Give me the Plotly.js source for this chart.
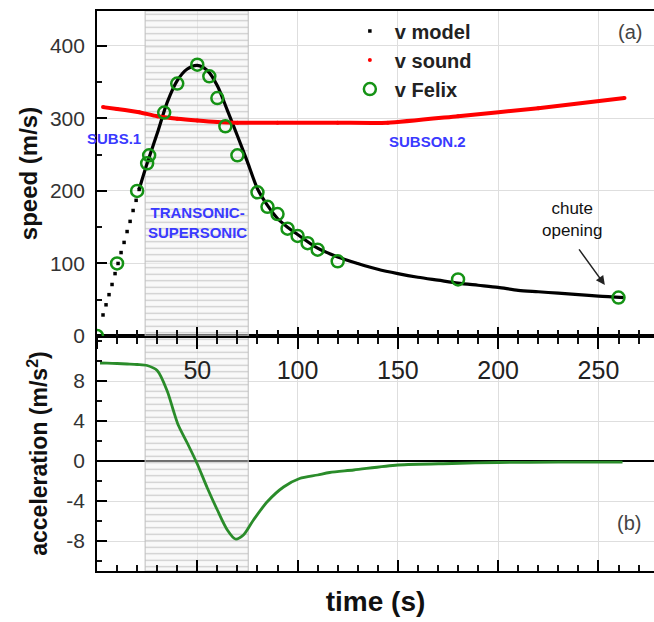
<!DOCTYPE html>
<html>
<head>
<meta charset="utf-8">
<script src="https://cdn.plot.ly/plotly-3.0.1.min.js"></script>
<style>html,body{margin:0;padding:0;background:#fff;overflow:hidden}</style>
</head>
<body>
<div id="chart" style="width:654px;height:622px"></div>
<script>
// ---- data ----
const transonicPhase = [24, 75.4];               // shaded transonic-supersonic interval (s)

const modelDotsT = [3, 4.5, 6, 7.5, 9, 10.5, 12, 13.5, 15, 16.5, 18, 19.5, 21];
const modelDotsV = [29, 43, 57, 71, 86, 100, 115, 129, 144, 158, 173, 187, 202];

const modelT = [21, 25, 30, 35, 40, 45, 50, 55, 60, 65, 70, 75, 80, 85, 90, 95, 100, 110, 120, 130, 140, 150, 160, 170, 180, 190, 200, 210, 220, 230, 240, 250, 263];
const modelV = [202, 238, 279, 322, 352, 368, 373, 366, 345, 311, 276, 240, 203, 180, 162, 150, 140, 121, 109, 100, 92, 86, 81, 77, 73, 70, 67, 63, 61, 59, 57, 55, 53];

const soundT = [3, 10, 21, 30, 40, 50, 60, 70, 90, 120, 145, 180, 220, 263];
const soundV = [315.5, 313, 308.5, 303, 299.5, 297, 295, 294, 294, 294, 294, 303, 314, 328];

const felixT = [0, 10, 20, 25, 26, 33.5, 40, 50, 56, 60, 64, 70, 80, 85, 90, 95, 100, 105, 110, 120, 180, 260];
const felixV = [0, 100, 200, 238, 249, 308, 348, 374, 358, 328, 289, 249, 198, 178, 168, 148, 138, 128, 119, 103, 78, 53];

const accelT = [1.5, 5, 10, 15, 20, 25, 30, 35, 38, 40.5, 45, 50, 55, 60, 65, 69, 73, 78, 85, 93, 101, 110, 116, 128, 150, 177, 200, 230, 262];
const accelA = [9.8, 9.78, 9.75, 9.7, 9.65, 9.55, 9.05, 7.0, 5.1, 3.6, 1.8, -0.3, -2.7, -4.9, -6.9, -7.8, -7.4, -5.9, -4.05, -2.6, -1.75, -1.4, -1.15, -0.9, -0.4, -0.25, -0.15, -0.12, -0.12];

const xTickVals = [0, 50, 100, 150, 200, 250];
const xTickText = ['', '50', '100', '150', '200', '250'];
const vTickVals = [0, 100, 200, 300, 400];
const vTickText = ['0', '100', '200', '300', '400'];
const aTickVals = [-8, -4, 0, 4, 8];
const aTickText = ['-8', '-4', '0', '4', '8'];

// ---- layout constants ----
const xRange = [0, 277.7];
const vRange = [0, 448];
const aRange = [-11, 12.5];
const FONT = '"Liberation Sans", Arial, Helvetica, sans-serif';
const SPLIT = 235 / 560;
// transparent spacer after each y tick label keeps the labels clear of the axis
const padLabel = t => t + '<span style="color:rgba(255,255,255,0)">.</span>';

const shadeMid = (transonicPhase[0] + transonicPhase[1]) / 2;
const shadeW = transonicPhase[1] - transonicPhase[0];
const shadeMarker = {
  color: 'rgba(240,240,240,0.4)',
  pattern: {shape: '-', fgcolor: 'rgba(190,190,190,0.8)', bgcolor: 'rgba(242,242,242,0.45)', size: 6.5, solidity: 0.18},
  line: {color: '#bdbdbd', width: 1}
};

// bottom panel = x/y (acceleration), top panel = x2/y2 (speed); x3 only carries the upward ticks of the top panel
const traces = [
  {type: 'bar', x: [shadeMid], y: [aRange[1] - aRange[0]], base: [aRange[0]], width: [shadeW],
   xaxis: 'x', yaxis: 'y', marker: shadeMarker, showlegend: false, hoverinfo: 'skip'},
  {type: 'bar', x: [shadeMid], y: [vRange[1] - vRange[0]], base: [vRange[0]], width: [shadeW],
   xaxis: 'x2', yaxis: 'y2', marker: shadeMarker, showlegend: false, hoverinfo: 'skip'},
  {type: 'scatter', mode: 'lines', x: modelT, y: modelV, xaxis: 'x2', yaxis: 'y2',
   line: {color: '#000', width: 3.2, shape: 'spline', smoothing: 0.8}, showlegend: false, hoverinfo: 'skip'},
  {type: 'scatter', mode: 'markers', name: 'v model', x: modelDotsT, y: modelDotsV, xaxis: 'x2', yaxis: 'y2',
   marker: {symbol: 'square', size: 3.5, color: '#000'}},
  {type: 'scatter', mode: 'lines', x: soundT, y: soundV, xaxis: 'x2', yaxis: 'y2',
   line: {color: '#ff0000', width: 4, shape: 'spline', smoothing: 0.6}, showlegend: false, hoverinfo: 'skip'},
  {type: 'scatter', mode: 'markers', name: 'v sound', x: soundT, y: soundV, xaxis: 'x2', yaxis: 'y2',
   marker: {size: 4, color: '#ff0000'}},
  {type: 'scatter', mode: 'markers', name: 'v Felix', x: felixT, y: felixV, xaxis: 'x2', yaxis: 'y2',
   marker: {symbol: 'circle-open', size: 12, color: '#159315', line: {width: 2.5, color: '#159315'}}},
  {type: 'scatter', mode: 'markers', x: felixT, y: felixV, xaxis: 'x3', yaxis: 'y2',
   marker: {size: 1, opacity: 0}, showlegend: false, hoverinfo: 'skip'},
  {type: 'scatter', mode: 'lines', x: accelT, y: accelA, xaxis: 'x', yaxis: 'y',
   line: {color: '#2a8c2a', width: 2.8, shape: 'spline', smoothing: 0.8}, showlegend: false, hoverinfo: 'skip'}
];

const axisCommon = {
  showline: true, linecolor: '#000', linewidth: 2,
  ticks: 'inside', tickcolor: '#000', tickwidth: 2,
  showgrid: true, gridcolor: '#dedede', gridwidth: 1,
  zeroline: false, fixedrange: true
};
const minorIn = {dtick: 10, ticks: 'inside', ticklen: 6, tickwidth: 2, tickcolor: '#111', showgrid: false};
const minorOut = {dtick: 10, ticks: 'outside', ticklen: 6, tickwidth: 2, tickcolor: '#111', showgrid: false};

const layout = {
  width: 654, height: 622,
  margin: {l: 97, r: 0, t: 11, b: 51, pad: 0},
  paper_bgcolor: '#fff', plot_bgcolor: '#fff',
  font: {family: FONT, color: '#333'},
  barmode: 'overlay',
  showlegend: true,
  legend: {x: 0.445, y: 0.999, xanchor: 'left', yanchor: 'top', bgcolor: 'rgba(0,0,0,0)',
           itemwidth: 40,
           font: {family: FONT, size: 20, color: '#222', weight: 'bold'}, tracegroupgap: 0},
  // bottom panel
  xaxis: Object.assign({}, axisCommon, {
    anchor: 'y', domain: [0, 1], range: xRange, mirror: true,
    tickmode: 'array', tickvals: xTickVals, ticklen: 11, showticklabels: false,
    minor: minorIn,
    title: {text: 'time (s)', font: {family: FONT, size: 28, color: '#111', weight: 'bold'}, standoff: 19}
  }),
  yaxis: Object.assign({}, axisCommon, {
    anchor: 'x', domain: [0, SPLIT], range: aRange,
    tickmode: 'array', tickvals: aTickVals, ticktext: aTickText.map(padLabel), ticklen: 10,
    zeroline: true, zerolinecolor: '#000', zerolinewidth: 2,
    tickfont: {family: FONT, size: 21, color: '#333'},
    minor: {dtick: 2, ticks: 'inside', ticklen: 5, tickwidth: 1.8, tickcolor: '#111', showgrid: false},
    title: {text: 'acceleration (m/s<sup>2</sup>)', font: {family: FONT, size: 23, color: '#111', weight: 'bold'}, standoff: 12}
  }),
  // top panel: ticks outside (down across the shared line) carry the labels
  xaxis2: Object.assign({}, axisCommon, {
    anchor: 'y2', domain: [0, 1], range: xRange, matches: 'x', mirror: true,
    tickmode: 'array', tickvals: xTickVals, ticktext: xTickText, ticks: 'outside', ticklen: 11,
    tickfont: {family: FONT, size: 25, color: '#222'},
    minor: minorOut
  }),
  // overlay axis with the upward (inside) ticks of the top panel
  xaxis3: {
    anchor: 'y2', overlaying: 'x2', domain: [0, 1], range: xRange, matches: 'x',
    showline: false, showgrid: false, zeroline: false, showticklabels: false, fixedrange: true,
    tickmode: 'array', tickvals: xTickVals, ticks: 'inside', ticklen: 9, tickwidth: 2, tickcolor: '#000',
    minor: minorIn
  },
  yaxis2: Object.assign({}, axisCommon, {
    anchor: 'x2', domain: [SPLIT, 1], range: vRange,
    tickmode: 'array', tickvals: vTickVals, ticktext: vTickText.map(padLabel), ticklen: 10,
    tickfont: {family: FONT, size: 21, color: '#333'},
    minor: {dtick: 50, ticks: 'inside', ticklen: 5, tickwidth: 1.8, tickcolor: '#111', showgrid: false},
    title: {text: 'speed (m/s)', font: {family: FONT, size: 24, color: '#111', weight: 'bold'}, standoff: 6}
  }),
  annotations: [
    {x: 8.5, y: 272, xref: 'x2', yref: 'y2', text: 'SUBS.1', showarrow: false,
     font: {family: FONT, size: 15, color: '#3a3aff', weight: 'bold'}},
    {x: 165, y: 268, xref: 'x2', yref: 'y2', text: 'SUBSON.2', showarrow: false,
     font: {family: FONT, size: 15, color: '#3a3aff', weight: 'bold'}},
    {x: 49.9, y: 157, xref: 'x2', yref: 'y2', text: 'TRANSONIC-<br>SUPERSONIC', showarrow: false,
     font: {family: FONT, size: 15, color: '#3a3aff', weight: 'bold'}},
    {x: 237, y: 161, xref: 'x2', yref: 'y2', text: 'chute<br>opening', showarrow: false,
     font: {family: FONT, size: 17, color: '#111'}},
    {x: 253.2, y: 70.3, xref: 'x2', yref: 'y2', ax: 239.8, ay: 121.4, axref: 'x2', ayref: 'y2',
     text: '', showarrow: true, arrowhead: 2, arrowsize: 1.2, arrowwidth: 1.5, arrowcolor: '#222'},
    {x: 265.7, y: 419, xref: 'x2', yref: 'y2', text: '(a)', showarrow: false,
     font: {family: FONT, size: 20, color: '#444'}},
    {x: 265.2, y: -6.2, xref: 'x', yref: 'y', text: '(b)', showarrow: false,
     font: {family: FONT, size: 20, color: '#444'}}
  ]
};

Plotly.newPlot('chart', traces, layout, {staticPlot: true, displayModeBar: false});
</script>
</body>
</html>
